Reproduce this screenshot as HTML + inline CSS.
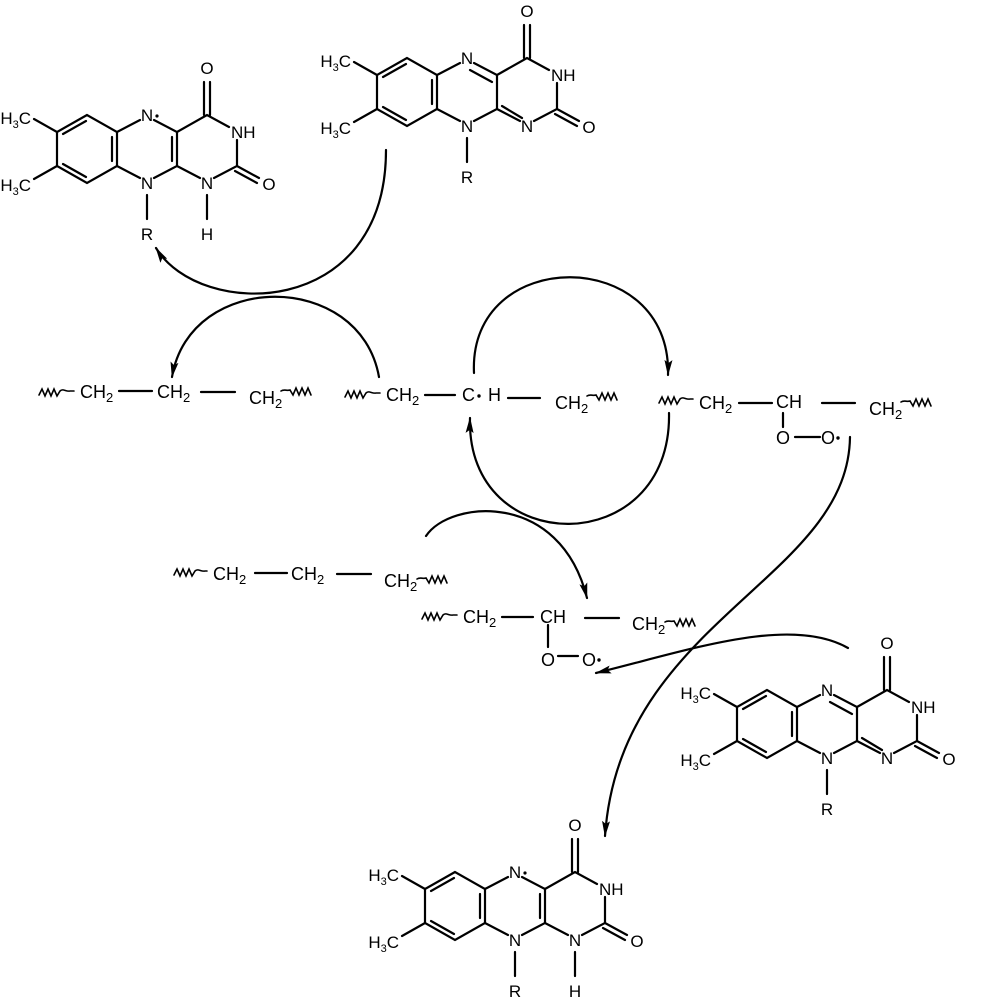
<!DOCTYPE html>
<html><head><meta charset="utf-8"><style>
html,body{margin:0;padding:0;background:#fff;}
svg{display:block;}
text{font-family:"Liberation Sans",Arial,sans-serif;fill:#000;}
.a{font-size:17px;text-anchor:middle;}
.s{font-size:17px;}
.c{font-size:18px;}
</style></head><body>
<svg width="992" height="1000" viewBox="0 0 992 1000" xmlns="http://www.w3.org/2000/svg">
<defs>
<marker id="ah" markerUnits="userSpaceOnUse" markerWidth="16" markerHeight="8" refX="15" refY="4" orient="auto">
<path d="M0,0 L16,4 L0,8 L3,4 Z" fill="#000"/>
</marker>
</defs>
<g stroke="#000" stroke-width="2.2" fill="none" stroke-linecap="round">

<g transform="translate(437,75)">
<path d="M-30,-17 L-60,0 L-60,34 L-30,51 L0,34 L0,0 Z M0,0 L23,-12 M37,-12 L60,0 L60,34 L37,46 M23,46 L0,34 M60,0 L90,-17 L112,-5 M120,8 L120,34 L97,46 M83,46 L60,34 M-60,0 L-83,-13 M-60,34 L-83,47 M30,63 L30,87 M87,-17 L87,-50 M93,-17 L93,-50 M120,34 L142,46 M118,39 L140,51 M-31,-11 L-54,2 M-54,32 L-31,45 M-5,5 L-5,29 M33,-5 L55,7 M65,31 L85,43"/>
</g>
<g transform="translate(797,707)">
<path d="M-30,-17 L-60,0 L-60,34 L-30,51 L0,34 L0,0 Z M0,0 L23,-12 M37,-12 L60,0 L60,34 L37,46 M23,46 L0,34 M60,0 L90,-17 L112,-5 M120,8 L120,34 L97,46 M83,46 L60,34 M-60,0 L-83,-13 M-60,34 L-83,47 M30,63 L30,87 M87,-17 L87,-50 M93,-17 L93,-50 M120,34 L142,46 M118,39 L140,51 M-31,-11 L-54,2 M-54,32 L-31,45 M-5,5 L-5,29 M33,-5 L55,7 M65,31 L85,43"/>
</g>
<g transform="translate(117,132)">
<path d="M-30,-17 L-60,0 L-60,34 L-30,51 L0,34 L0,0 Z M0,0 L23,-12 M37,-12 L60,0 L60,34 L37,46 M23,46 L0,34 M60,0 L90,-17 L112,-5 M120,8 L120,34 L97,46 M83,46 L60,34 M-60,0 L-83,-13 M-60,34 L-83,47 M30,63 L30,87 M90,63 L90,87 M87,-17 L87,-50 M93,-17 L93,-50 M120,34 L142,46 M118,39 L140,51 M-31,-11 L-54,2 M-54,32 L-31,45 M-5,5 L-5,29 M55,5 L55,29"/>
</g>
<g transform="translate(485,889)">
<path d="M-30,-17 L-60,0 L-60,34 L-30,51 L0,34 L0,0 Z M0,0 L23,-12 M37,-12 L60,0 L60,34 L37,46 M23,46 L0,34 M60,0 L90,-17 L112,-5 M120,8 L120,34 L97,46 M83,46 L60,34 M-60,0 L-83,-13 M-60,34 L-83,47 M30,63 L30,87 M90,63 L90,87 M87,-17 L87,-50 M93,-17 L93,-50 M120,34 L142,46 M118,39 L140,51 M-31,-11 L-54,2 M-54,32 L-31,45 M-5,5 L-5,29 M55,5 L55,29"/>
</g>

<path d="M119,391 L152,391 M201,392 L235,392 M425,395 L455,395 M508,398 L540,398 M739,403 L772,403 M783,413 L783,427 M795,437 L820,437 M822,403 L855,403 M255,573 L287,573 M337,574 L371,574 M502,617 L533,617 M548,625 L548,647 M558,656 L578,656 M585,618 L619,618"/>

<g stroke-width="1.6">
<path d="M39,395 l3,-6 l3,7 l3,-7 l3,7 l3,-7 l3,7 l3,-5 c3,-3 6,1 10,0 l4,0"/>
<path d="M281,391 c3,-2 6,0 9,-1 l3,5 l3,-7 l3,7 l3,-7 l3,7 l3,-7 l3,7"/>
<path d="M345,397 l3,-6 l3,7 l3,-7 l3,7 l3,-7 l3,7 l3,-5 c3,-3 6,1 10,0 l4,0"/>
<path d="M587,396 c3,-2 6,0 9,-1 l3,5 l3,-7 l3,7 l3,-7 l3,7 l3,-7 l3,7"/>
<path d="M659,403 l3,-6 l3,7 l3,-7 l3,7 l3,-7 l3,7 l3,-5 c3,-3 6,1 10,0 l3,0"/>
<path d="M901,402 c3,-2 6,0 9,-1 l3,5 l3,-7 l3,7 l3,-7 l3,7 l3,-7 l3,7"/>
<path d="M174,575 l3,-6 l3,7 l3,-7 l3,7 l3,-7 l3,7 l3,-5 c3,-3 6,1 10,0 l2,0"/>
<path d="M417,579 c3,-2 6,0 9,-1 l3,5 l3,-7 l3,7 l3,-7 l3,7 l3,-7 l3,7"/>
<path d="M422,619 l3,-6 l3,7 l3,-7 l3,7 l3,-7 l3,7 l3,-5 c3,-3 6,1 10,0 l4,0"/>
<path d="M665,622 c3,-2 6,0 9,-1 l3,5 l3,-7 l3,7 l3,-7 l3,7 l3,-7 l3,7"/>
</g>

<path d="M386,150 C386,320 200,320 156,248" marker-end="url(#ah)"/>
<path d="M379,377 C360,270 190,270 172,377" marker-end="url(#ah)"/>
<path d="M474,373 C468,245 672,245 668,375" marker-end="url(#ah)"/>
<path d="M669,413 C672,560 466,560 470,418" marker-end="url(#ah)"/>
<path d="M426,536 C450,500 560,490 587,598" marker-end="url(#ah)"/>
<path d="M848,648 C790,615 690,650 596,673" marker-end="url(#ah)"/>
<path d="M850,437 C848,580 620,620 605,836" marker-end="url(#ah)"/>
</g>

<g transform="translate(437,75)">
<text class="a" x="30" y="-11">N</text><text class="a" x="30" y="57">N</text><text class="a" x="90" y="57">N</text>
<text class="s" x="114" y="6">NH</text><text class="a" x="90" y="-58">O</text><text class="a" x="152" y="58">O</text>
<text class="s" x="-86" y="-8" text-anchor="end">H<tspan font-size="11" dy="4">3</tspan><tspan dy="-4">C</tspan></text>
<text class="s" x="-86" y="59" text-anchor="end">H<tspan font-size="11" dy="4">3</tspan><tspan dy="-4">C</tspan></text>
<text class="a" x="30" y="108">R</text>
</g>
<g transform="translate(797,707)">
<text class="a" x="30" y="-11">N</text><text class="a" x="30" y="57">N</text><text class="a" x="90" y="57">N</text>
<text class="s" x="114" y="6">NH</text><text class="a" x="90" y="-58">O</text><text class="a" x="152" y="58">O</text>
<text class="s" x="-86" y="-8" text-anchor="end">H<tspan font-size="11" dy="4">3</tspan><tspan dy="-4">C</tspan></text>
<text class="s" x="-86" y="59" text-anchor="end">H<tspan font-size="11" dy="4">3</tspan><tspan dy="-4">C</tspan></text>
<text class="a" x="30" y="108">R</text>
</g>
<g transform="translate(117,132)">
<text class="a" x="30" y="-11">N</text><circle cx="40" cy="-16" r="1.6"/><text class="a" x="30" y="57">N</text><text class="a" x="90" y="57">N</text>
<text class="s" x="114" y="6">NH</text><text class="a" x="90" y="-58">O</text><text class="a" x="152" y="58">O</text>
<text class="s" x="-86" y="-8" text-anchor="end">H<tspan font-size="11" dy="4">3</tspan><tspan dy="-4">C</tspan></text>
<text class="s" x="-86" y="59" text-anchor="end">H<tspan font-size="11" dy="4">3</tspan><tspan dy="-4">C</tspan></text>
<text class="a" x="30" y="108">R</text><text class="a" x="90" y="108">H</text>
</g>
<g transform="translate(485,889)">
<text class="a" x="30" y="-11">N</text><circle cx="40" cy="-16" r="1.6"/><text class="a" x="30" y="57">N</text><text class="a" x="90" y="57">N</text>
<text class="s" x="114" y="6">NH</text><text class="a" x="90" y="-58">O</text><text class="a" x="152" y="58">O</text>
<text class="s" x="-86" y="-8" text-anchor="end">H<tspan font-size="11" dy="4">3</tspan><tspan dy="-4">C</tspan></text>
<text class="s" x="-86" y="59" text-anchor="end">H<tspan font-size="11" dy="4">3</tspan><tspan dy="-4">C</tspan></text>
<text class="a" x="30" y="108">R</text><text class="a" x="90" y="108">H</text>
</g>

<text class="c" x="80" y="398">CH<tspan font-size="13" dy="4">2</tspan></text>
<text class="c" x="157" y="398">CH<tspan font-size="13" dy="4">2</tspan></text>
<text class="c" x="249" y="404">CH<tspan font-size="13" dy="4">2</tspan></text>
<text class="c" x="386" y="401">CH<tspan font-size="13" dy="4">2</tspan></text>
<text class="c" x="462" y="401">C</text><circle cx="479" cy="396" r="1.7"/>
<text class="c" x="488" y="401">H</text>
<text class="c" x="555" y="409">CH<tspan font-size="13" dy="4">2</tspan></text>
<text class="c" x="699" y="409">CH<tspan font-size="13" dy="4">2</tspan></text>
<text class="c" x="776" y="408">CH</text>
<text class="c" x="776" y="444">O</text>
<text class="c" x="821" y="444">O</text><circle cx="838" cy="438" r="1.7"/>
<text class="c" x="869" y="415">CH<tspan font-size="13" dy="4">2</tspan></text>
<text class="c" x="213" y="580">CH<tspan font-size="13" dy="4">2</tspan></text>
<text class="c" x="291" y="580">CH<tspan font-size="13" dy="4">2</tspan></text>
<text class="c" x="384" y="587">CH<tspan font-size="13" dy="4">2</tspan></text>
<text class="c" x="463" y="623">CH<tspan font-size="13" dy="4">2</tspan></text>
<text class="c" x="540" y="623">CH</text>
<text class="c" x="541" y="666">O</text>
<text class="c" x="582" y="666">O</text><circle cx="599" cy="660" r="1.7"/>
<text class="c" x="632" y="630">CH<tspan font-size="13" dy="4">2</tspan></text>
</svg>
</body></html>
